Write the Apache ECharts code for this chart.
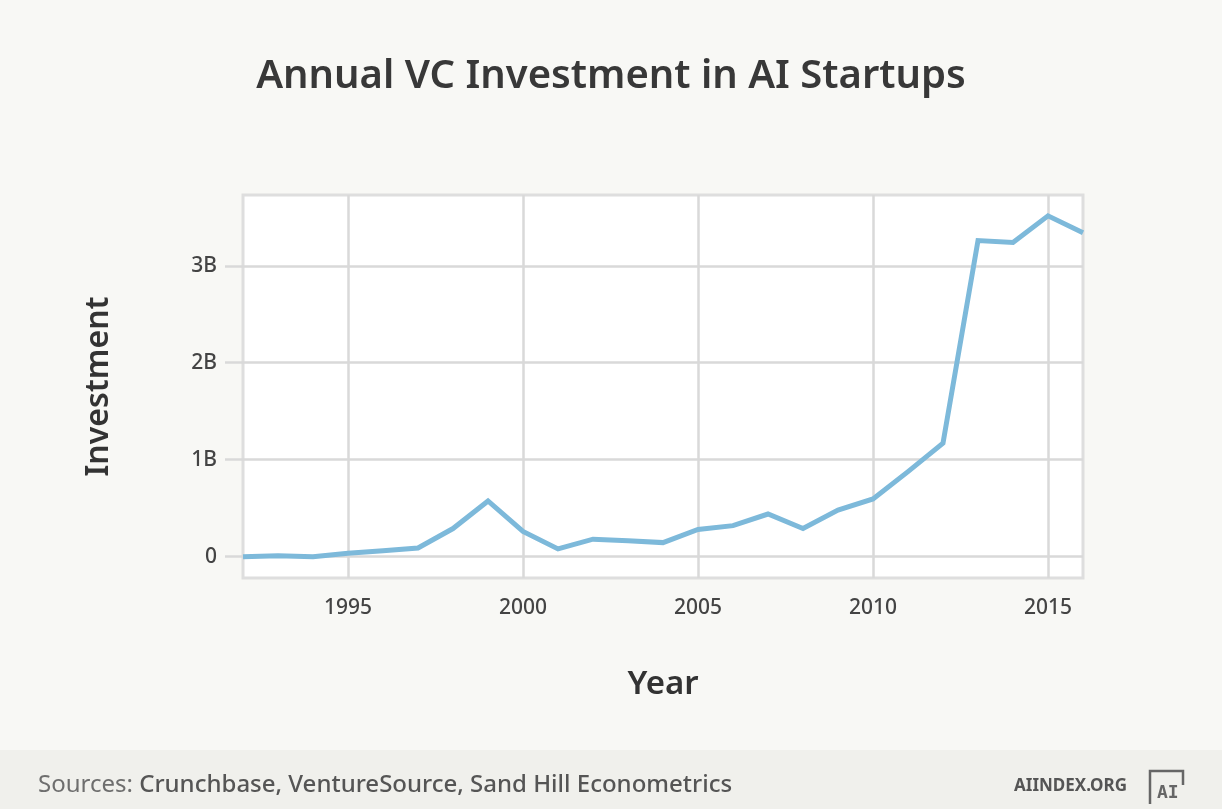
<!DOCTYPE html>
<html>
<head>
<meta charset="utf-8">
<script src="https://cdn.jsdelivr.net/npm/echarts@6/dist/echarts.min.js"></script>
<style>
html,body{margin:0;padding:0;background:#f8f8f5;}
#chart{width:1222px;height:809px;}
</style>
</head>
<body>
<div id="chart"></div>
<script>
const years = [1992,1993,1994,1995,1996,1997,1998,1999,2000,2001,2002,2003,2004,2005,2006,2007,2008,2009,2010,2011,2012,2013,2014,2015,2016];
const investment = [0.0,0.01,0.0,0.035,0.06,0.09,0.29,0.575,0.26,0.08,0.18,0.165,0.145,0.28,0.32,0.44,0.29,0.48,0.595,0.877,1.17,3.26,3.24,3.515,3.34].map(v => v * 1e9);
const xTicks = [1995,2000,2005,2010,2015];
const yTicks = [0,1e9,2e9,3e9];
const yTickLabels = ['0','1B','2B','3B'];

const FONT = '"Noto Sans", "Open Sans", sans-serif';
const chart = echarts.init(document.getElementById('chart'), null, {renderer:'canvas'});
const gridColor = '#d9d9d9';

chart.setOption({
  backgroundColor: '#f8f8f5',
  animation: false,
  title: {
    text: 'Annual VC Investment in AI Startups',
    left: 'center',
    top: 52,
    textStyle: {fontFamily: FONT, fontSize: 40, fontWeight: 600, color: '#383838'}
  },
  grid: {
    left: 243, right: 139, top: 195, bottom: 231,
    show: true, backgroundColor: '#ffffff', borderColor: '#dedede', borderWidth: 3
  },
  xAxis: {
    type: 'value', min: 1992, max: 2016,
    name: 'Year', nameLocation: 'middle', nameGap: 90,
    nameTextStyle: {fontFamily: FONT, fontSize: 33, fontWeight: 600, color: '#333'},
    axisLine: {show: false},
    axisTick: {show: false, customValues: xTicks},
    axisLabel: {customValues: xTicks, margin: 20, fontFamily: FONT, fontSize: 21, fontWeight: 500, color: '#444', formatter: v => String(v)},
    splitLine: {show: true, lineStyle: {color: gridColor, width: 2.5}}
  },
  yAxis: {
    type: 'value', min: -0.22e9, max: 3.73e9,
    name: 'Investment', nameLocation: 'middle', nameGap: 128, nameRotate: 90,
    nameTextStyle: {fontFamily: FONT, fontSize: 32, fontWeight: 600, color: '#333'},
    axisLine: {show: false},
    axisTick: {show: true, inside: false, length: 18, customValues: yTicks, lineStyle: {color: gridColor, width: 2.5}},
    axisLabel: {customValues: yTicks, margin: 26, fontFamily: FONT, fontSize: 21, fontWeight: 500, color: '#444',
      formatter: v => { const i = yTicks.indexOf(v); return i >= 0 ? yTickLabels[i] : ''; }},
    splitLine: {show: true, lineStyle: {color: gridColor, width: 2.5}}
  },
  series: [{
    type: 'line',
    data: years.map((y, i) => [y, investment[i]]),
    showSymbol: false,
    lineStyle: {color: '#7db9da', width: 5, join: 'miter'},
    itemStyle: {color: '#7db9da'}
  }],
  graphic: [
    {type: 'rect', left: 0, top: 750, shape: {width: 1222, height: 59}, style: {fill: '#f0f0ec'}, silent: true},
    {type: 'text', left: 38, top: 773,
      style: {
        text: '{a|Sources: }{b|Crunchbase, VentureSource, Sand Hill Econometrics}',
        rich: {
          a: {fontFamily: FONT, fontSize: 24, fontWeight: 400, fill: '#6e6e6e'},
          b: {fontFamily: FONT, fontSize: 24, fontWeight: 500, fill: '#555'}
        }
      }},
    {type: 'text', left: 1014, top: 778,
      style: {text: 'AIINDEX.ORG', fontFamily: FONT, fontSize: 17, fontWeight: 700, fill: '#555'}},
    {type: 'polyline', shape: {points: [[1150,804],[1150,771],[1183,771],[1183,785]]},
      style: {stroke: '#666', lineWidth: 2.5, fill: null}},
    {type: 'text', left: 1157, top: 784,
      style: {text: 'AI', fontFamily: '"DejaVu Sans Mono", monospace', fontSize: 18, fontWeight: 700, fill: '#666'}}
  ]
});
</script>
</body>
</html>
